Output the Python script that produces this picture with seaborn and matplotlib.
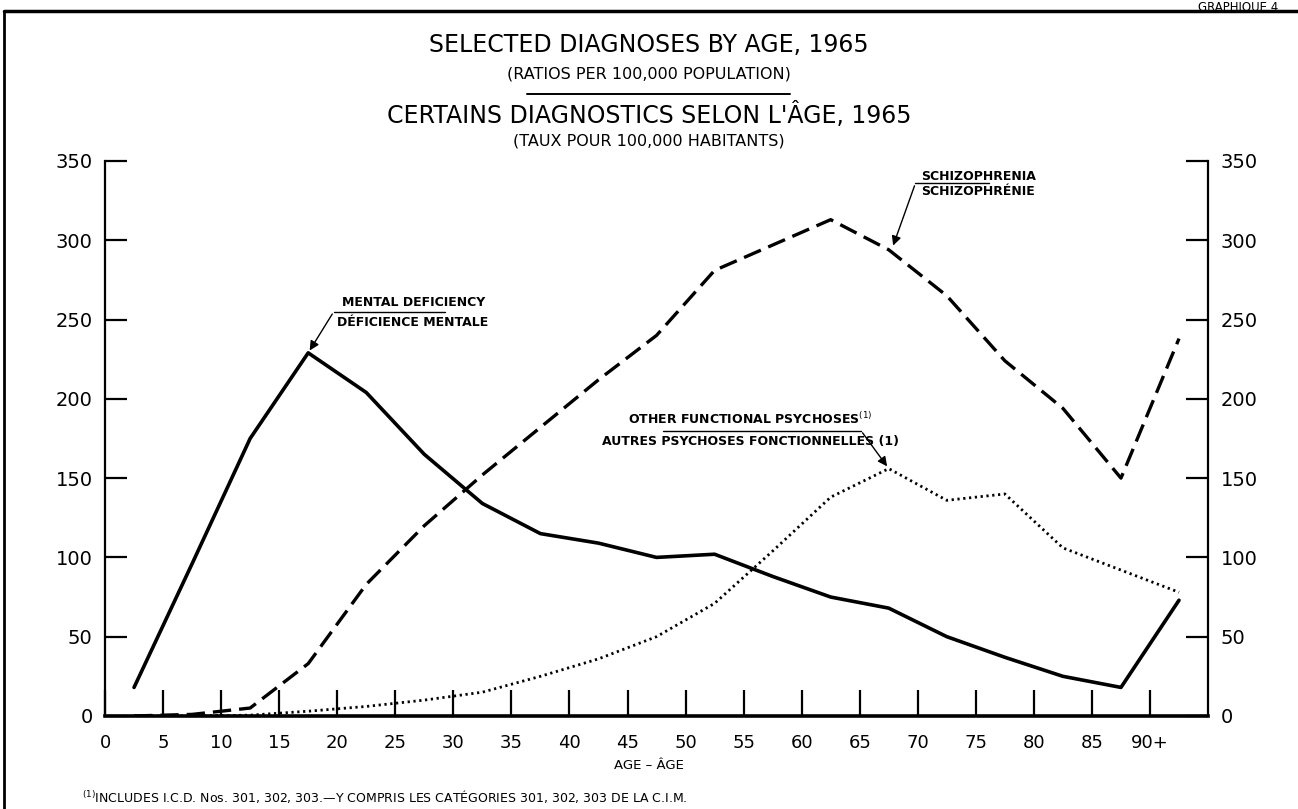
import matplotlib
matplotlib.use('Agg')
import matplotlib.pyplot as plt
import seaborn as sns
import pandas as pd
from matplotlib.lines import Line2D

# age group midpoints (0-4, 5-9, ..., 85-89, 90+)
ages = [2.5, 7.5, 12.5, 17.5, 22.5, 27.5, 32.5, 37.5, 42.5, 47.5,
        52.5, 57.5, 62.5, 67.5, 72.5, 77.5, 82.5, 87.5, 92.5]

mental_deficiency = [18, 96, 175, 229, 204, 165, 134, 115, 109, 100,
                     102, 88, 75, 68, 50, 37, 25, 18, 73]
schizophrenia = [0, 1, 5, 33, 83, 120, 152, 182, 212, 240,
                 281, 297, 313, 294, 265, 224, 194, 150, 238]
other_psychoses = [0, 0, 0.5, 3, 6, 10, 15, 25, 36, 50,
                   71, 104, 138, 156, 136, 140, 106, 92, 78]

x_ticks = list(range(0, 95, 5))
x_labels = [str(v) for v in range(0, 90, 5)] + ['90+']
y_ticks = list(range(0, 400, 50))

sns.set_style('white')
plt.rcParams['font.family'] = ['DejaVu Sans']
plt.rcParams['text.color'] = 'black'

title_font = ['DejaVu Sans']

fig = plt.figure(figsize=(12.98, 8.09), dpi=100)
ax = fig.add_axes([0.0809, 0.115, 0.8498, 0.686])

df_m = pd.DataFrame({'age': ages, 'rate': mental_deficiency})
df_s = pd.DataFrame({'age': ages, 'rate': schizophrenia})
df_o = pd.DataFrame({'age': ages, 'rate': other_psychoses})

sns.lineplot(data=df_m, x='age', y='rate', ax=ax, color='black', linewidth=2.6)
sns.lineplot(data=df_s, x='age', y='rate', ax=ax, color='black', linewidth=2.4,
             dashes=False, linestyle=(0, (5.5, 2.4)))
sns.lineplot(data=df_o, x='age', y='rate', ax=ax, color='black', linewidth=2.0,
             linestyle=(0, (0.8, 1.3)))

ax.set_xlim(0, 95)
ax.set_ylim(0, 350)
ax.set_xticks(x_ticks)
ax.set_xticklabels(x_labels)
ax.set_yticks(y_ticks)
ax.set_xlabel('')
ax.set_ylabel('')

ax.spines['top'].set_visible(False)
for side in ['left', 'right']:
    ax.spines[side].set_linewidth(1.6)
    ax.spines[side].set_color('black')
ax.spines['bottom'].set_linewidth(2.6)
ax.spines['bottom'].set_color('black')

ax.tick_params(axis='y', which='both', left=True, right=True, labelleft=True,
               labelright=True, direction='in', length=16, width=1.6,
               labelsize=14, pad=9, colors='black')
ax.tick_params(axis='x', direction='in', length=19, width=1.6, labelsize=13,
               pad=13, colors='black', bottom=True)

# titles
fig.text(0.5, 0.944, 'SELECTED DIAGNOSES BY AGE, 1965', ha='center', va='center',
         fontsize=17, family=title_font)
fig.text(0.5, 0.909, '(RATIOS PER 100,000 POPULATION)', ha='center', va='center',
         fontsize=11.5, family=title_font)
fig.add_artist(Line2D([0.406, 0.609], [0.884, 0.884], color='black', linewidth=1.4))
fig.text(0.5, 0.858, "CERTAINS DIAGNOSTICS SELON L'ÂGE, 1965", ha='center', va='center',
         fontsize=17, family=title_font)
fig.text(0.5, 0.826, '(TAUX POUR 100,000 HABITANTS)', ha='center', va='center',
         fontsize=11.5, family=title_font)

fig.text(0.5, 0.054, 'AGE – ÂGE', ha='center', va='center', fontsize=9.5,
         family=title_font)
fig.text(0.063, 0.015, r'$^{(1)}$INCLUDES I.C.D. Nos. 301, 302, 303.—Y COMPRIS LES CATÉGORIES 301, 302, 303 DE LA C.I.M.',
         ha='left', va='center', fontsize=9, family=title_font)
fig.text(0.985, 0.999, 'GRAPHIQUE 4', ha='right', va='top', fontsize=8.5,
         family=title_font)

# page frame
fig.add_artist(Line2D([0.003, 0.003], [0.0, 0.986], color='black', linewidth=2))
fig.add_artist(Line2D([0.003, 1.0], [0.986, 0.986], color='black', linewidth=2.5))

# labels with leader lines
lab_kw = dict(fontsize=9, fontweight='bold', family=title_font, va='center', ha='left')
arrow_kw = dict(arrowstyle='-|>', color='black', lw=1.0, mutation_scale=14)

ax.text(20.4, 261, 'MENTAL DEFICIENCY', **lab_kw)
ax.text(20.0, 248, 'DÉFICIENCE MENTALE', **lab_kw)
ax.plot([19.7, 29.3], [255, 255], color='black', lw=1.0)
ax.annotate('', xy=(ages[3], mental_deficiency[3]), xytext=(19.7, 255),
            arrowprops=arrow_kw)

ax.text(70.3, 340, 'SCHIZOPHRENIA', **lab_kw)
ax.text(70.3, 331, 'SCHIZOPHRÉNIE', **lab_kw)
ax.plot([69.8, 76.1], [336, 336], color='black', lw=1.0)
ax.annotate('', xy=(ages[13] + 0.3, schizophrenia[13] + 1), xytext=(69.8, 336),
            arrowprops=arrow_kw)

ax.text(45.0, 187, r'OTHER FUNCTIONAL PSYCHOSES$^{(1)}$', **lab_kw)
ax.text(42.8, 173, 'AUTRES PSYCHOSES FONCTIONNELLES (1)', **lab_kw)
ax.plot([48.1, 65.1], [180, 180], color='black', lw=1.0)
ax.annotate('', xy=(ages[13], other_psychoses[13]), xytext=(65.1, 180),
            arrowprops=arrow_kw)

fig.savefig('out.png', dpi=100)
